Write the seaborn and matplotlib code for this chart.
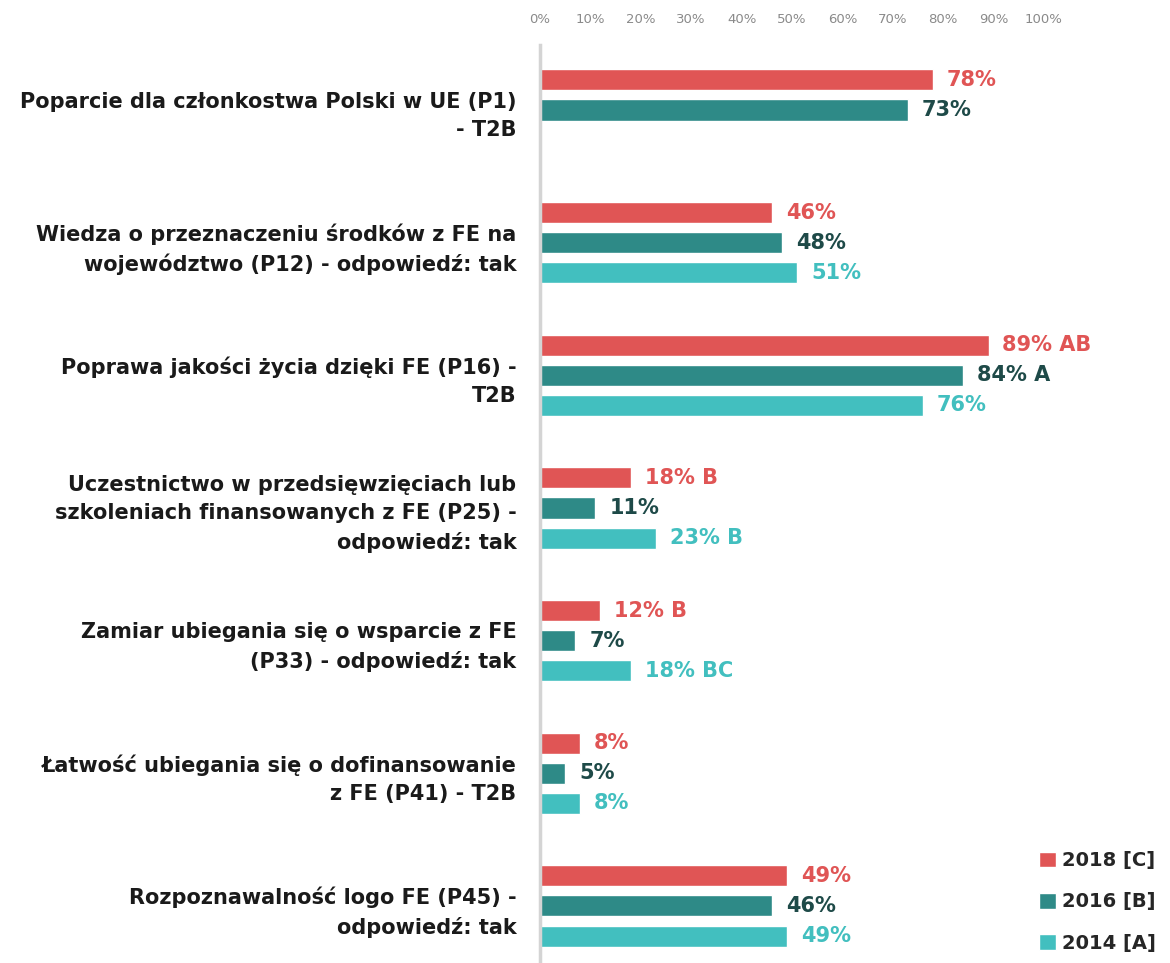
import numpy as np
import pandas as pd
import matplotlib
matplotlib.use("Agg")
import matplotlib.pyplot as plt
import seaborn as sns

# =============================
# DATA
# =============================
categories = [
    "Poparcie dla członkostwa Polski w UE (P1)\n- T2B",
    "Wiedza o przeznaczeniu środków z FE na\nwojewództwo (P12) - odpowiedź: tak",
    "Poprawa jakości życia dzięki FE (P16) -\nT2B",
    "Uczestnictwo w przedsięwzięciach lub\nszkoleniach finansowanych z FE (P25) -\nodpowiedź: tak",
    "Zamiar ubiegania się o wsparcie z FE\n(P33) - odpowiedź: tak",
    "Łatwość ubiegania się o dofinansowanie\nz FE (P41) - T2B",
    "Rozpoznawalność logo FE (P45) -\nodpowiedź: tak",
]
series = ["2018 [C]", "2016 [B]", "2014 [A]"]

values_2018 = [78, 46, 89, 18, 12, 8, 49]
values_2016 = [73, 48, 84, 11, 7, 5, 46]
values_2014 = [np.nan, 51, 76, 23, 18, 8, 49]

sig_2018 = ["", "", "AB", "B", "B", "", ""]
sig_2016 = ["", "", "A", "", "", "", ""]
sig_2014 = ["", "", "", "B", "BC", "", ""]

ticks = [0, 10, 20, 30, 40, 50, 60, 70, 80, 90, 100]

bar_colors = ["#E05555", "#2E8A87", "#42BFBF"]
text_colors = ["#E05555", "#1E4A48", "#42BFBF"]

# =============================
# LONG TABLE FOR SEABORN
# =============================
rows = []
for s, vals in zip(series, [values_2018, values_2016, values_2014]):
    for c, v in zip(categories, vals):
        rows.append({"kategoria": c, "rok": s, "wartosc": v})
df = pd.DataFrame(rows)

# =============================
# PLOT
# =============================
sns.set_style("white")
plt.rcParams["font.family"] = ["DejaVu Sans"]

fig = plt.figure(figsize=(11.7, 9.63), dpi=100)
ax = fig.add_axes([540 / 1170, 0.0, 630 / 1170, 1 - 45 / 963])

sns.barplot(
    data=df, y="kategoria", x="wartosc", hue="rok",
    order=categories, hue_order=series, palette=bar_colors,
    orient="h", width=0.68, gap=0.3, ax=ax, saturation=1,
)

ax.set_xlim(0, 125)
ax.set_ylim(6.43, -0.49)
ax.set_xticks(ticks)
ax.set_xticklabels([f"{t}%" for t in ticks], color="#8a8a8a", fontsize=9.5)
ax.xaxis.tick_top()
ax.tick_params(axis="x", length=0, pad=14)
ax.tick_params(axis="y", length=0, pad=17)
ax.set_xlabel("")
ax.set_ylabel("")

for lbl in ax.get_yticklabels():
    lbl.set_fontweight("bold")
    lbl.set_fontsize(15)
    lbl.set_color("#1a1a1a")
    lbl.set_multialignment("right")
    lbl.set_linespacing(1.5)

for side in ["top", "right", "bottom"]:
    ax.spines[side].set_visible(False)
ax.spines["left"].set_color("#d4d4d4")
ax.spines["left"].set_linewidth(2.5)

# value labels (match bars to categories by position, NaN bars may be dropped)
for cont, vals, sigs, tc in zip(ax.containers,
                                [values_2018, values_2016, values_2014],
                                [sig_2018, sig_2016, sig_2014], text_colors):
    labels = []
    for bar in cont:
        i = int(round(bar.get_y() + bar.get_height() / 2))
        v = vals[i]
        if np.isnan(v):
            labels.append("")
        else:
            labels.append(f"{v:.0f}%" + (f" {sigs[i]}" if sigs[i] else ""))
    ax.bar_label(cont, labels=labels, padding=10, color=tc,
                 fontsize=15, fontweight="bold")

# legend
handles, leg_labels = ax.get_legend_handles_labels()
leg = ax.legend(
    handles, leg_labels, loc="lower right", bbox_to_anchor=(1.005, -0.008),
    frameon=False, handlelength=0.85, handleheight=0.85, handletextpad=0.3,
    labelspacing=1.15, prop={"weight": "bold", "size": 14},
)

fig.savefig("out.png", dpi=100)
plt.close(fig)
